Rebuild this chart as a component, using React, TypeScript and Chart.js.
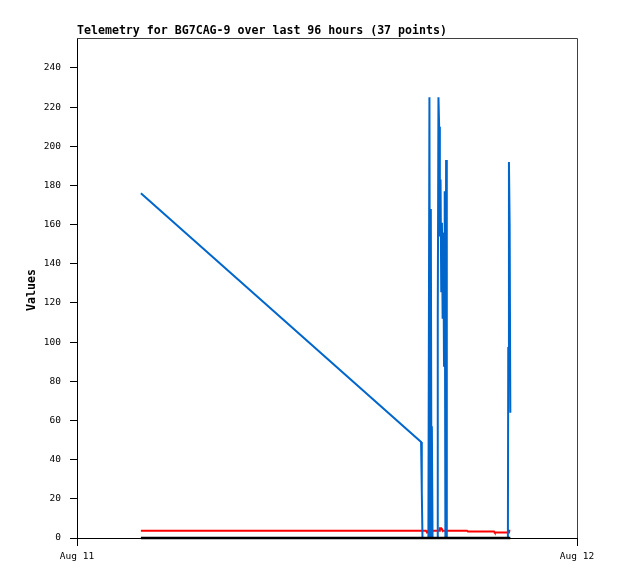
import React, { useEffect, useRef } from "react";
import { Chart, registerables } from "chart.js";

Chart.register(...registerables);

// minutes since Aug 11 00:00
const minutes = [
  184, 991, 993, 995, 1005, 1008, 1012, 1015, 1017, 1019, 1021, 1022, 1024,
  1037, 1039, 1041, 1043, 1045, 1047, 1049, 1051, 1053, 1055, 1057, 1059,
  1061, 1063, 1065, 1123, 1126, 1201, 1203, 1241, 1242, 1244, 1246, 1248,
];

const blueValues = [
  176, 49, 24, 0, 0, 0, 0, 225, 0, 168, 0, 57, 0,
  0, 112, 225, 210, 154, 183, 126, 161, 112, 156, 88, 177,
  0, 193, 0, 0, 0, 0, 0, 0, 97, 192, 160, 64,
];

const redValues = [
  3.7, 3.7, 3.7, 3.7, 3.7, 2.9, 3.7, 4.4, 3.7, 3.7, 3.7, 3.7, 3.7,
  3.7, 3.7, 3.7, 3.7, 5, 5, 5, 4.4, 3.7, 3.7, 3.7, 3.7,
  3.7, 3.7, 3.7, 3.7, 3.3, 3.3, 2.8, 2.8, 2.8, 3.7, 3.7, 3.7,
];

const blackValues = [
  0, 0, 0, 0, 0, 0, 0, 0, 0, 0, 0, 0, 0,
  0, 0, 0, 0, 0, 0, 0, 0, 0, 0, 0, 0,
  0, 0, 0, 0, 0, 0, 0, 0, 0, 0, 0, 0,
];

const yTicks = [0, 20, 40, 60, 80, 100, 120, 140, 160, 180, 200, 220, 240];
const xTicks = [0, 1440];
const xTickLabels = ["Aug 11", "Aug 12"];

const titleText = "Telemetry for BG7CAG-9 over last 96 hours (37 points)";
const yTitle = "Values";

const toPoints = (vals: number[]) => minutes.map((m, i) => ({ x: m, y: vals[i] }));

const decorPlugin = {
  id: "decor",
  afterDraw(chart: any) {
    const { ctx, chartArea } = chart;
    const { left, right, top, bottom } = chartArea;
    ctx.save();
    ctx.strokeStyle = "#404040";
    ctx.lineWidth = 1;
    ctx.beginPath();
    ctx.moveTo(left, top + 0.5);
    ctx.lineTo(right + 0.5, top + 0.5);
    ctx.lineTo(right + 0.5, bottom);
    ctx.stroke();
    ctx.fillStyle = "#000";
    ctx.font = "bold 11.6px 'DejaVu Sans Mono'";
    ctx.textAlign = "left";
    ctx.textBaseline = "middle";
    ctx.fillText(titleText, left, 31);
    ctx.translate(32, (top + bottom) / 2 + 2);
    ctx.rotate(-Math.PI / 2);
    ctx.textAlign = "center";
    ctx.fillText(yTitle, 0, 0);
    ctx.restore();
  },
};

export default function App() {
  const ref = useRef<HTMLCanvasElement>(null);
  useEffect(() => {
    document.body.style.margin = "0";
    const canvas = ref.current!;
    const common = { pointRadius: 0, tension: 0, clip: false as any };
    const chart = new Chart(canvas, {
      type: "line",
      data: {
        datasets: [
          { data: toPoints(blackValues), borderColor: "#000000", borderWidth: 2.5, ...common },
          { data: toPoints(blueValues), borderColor: "#0066cc", borderWidth: 2, ...common },
          { data: toPoints(redValues), borderColor: "#ff0000", borderWidth: 2, ...common },
        ],
      },
      options: {
        animation: false,
        responsive: false,
        devicePixelRatio: 1,
        parsing: false as any,
        normalized: true,
        layout: { padding: { top: 38, right: 41, left: 0, bottom: 0 } },
        plugins: {
          legend: { display: false },
          tooltip: { enabled: false },
          title: { display: false },
        },
        scales: {
          x: {
            type: "linear",
            min: 0,
            max: 1440,
            afterBuildTicks: (s: any) => {
              s.ticks = xTicks.map((v) => ({ value: v }));
            },
            afterFit: (s: any) => {
              s.height = 41;
            },
            ticks: {
              autoSkip: false,
              maxRotation: 0,
              padding: 5,
              color: "#000",
              font: { family: "'DejaVu Sans Mono'", size: 9.5 },
              callback: (v: any) => xTickLabels[xTicks.indexOf(Number(v))] ?? "",
            },
            grid: {
              display: true,
              drawOnChartArea: false,
              drawTicks: true,
              tickLength: 8,
              color: "#000",
            },
            border: { display: true, color: "#000", width: 1 },
          },
          y: {
            type: "linear",
            min: 0,
            max: 255.3,
            afterBuildTicks: (s: any) => {
              s.ticks = yTicks.map((v) => ({ value: v }));
            },
            afterFit: (s: any) => {
              s.width = 77;
            },
            ticks: {
              autoSkip: false,
              padding: 9,
              color: "#000",
              font: { family: "'DejaVu Sans Mono'", size: 9.5 },
            },
            grid: {
              display: true,
              drawOnChartArea: false,
              drawTicks: true,
              tickLength: 7,
              color: "#000",
            },
            border: { display: true, color: "#000", width: 1 },
          },
        },
      },
      plugins: [decorPlugin],
    });
    return () => chart.destroy();
  }, []);
  return (
    <div style={{ width: 618, height: 579, background: "#fff" }}>
      <canvas ref={ref} width={618} height={579} />
    </div>
  );
}
